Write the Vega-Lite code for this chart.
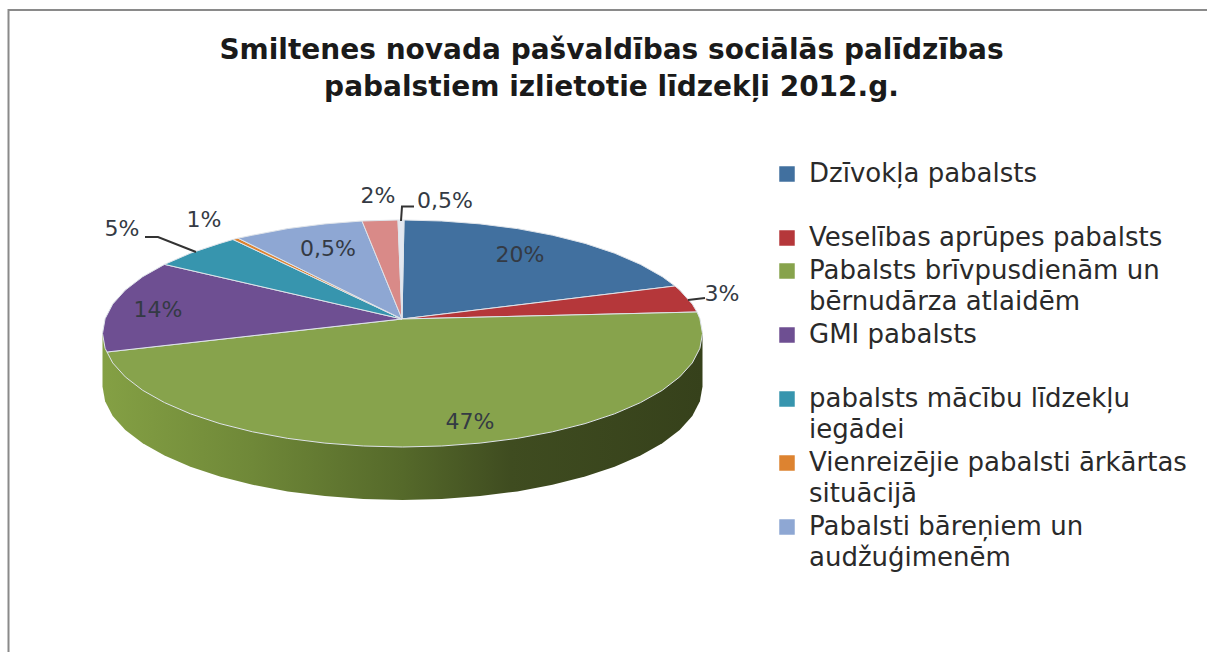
{
"$schema":"https://vega.github.io/schema/vega-lite/v6.json",
"width":1215,"height":652,"padding":0,"autosize":"none","background":"white",
"config":{"view":{"stroke":null}},
"title":{"text":["Smiltenes novada pašvaldības sociālās palīdzības","pabalstiem izlietotie līdzekļi 2012.g."],"font":"DejaVu Sans","fontSize":28,"fontWeight":"bold","color":"#1a1a1a","lineHeight":37,"anchor":"middle","baseline":"top","offset":0,"dx":4,"dy":102},
"datasets":{
"frame":[{"x":8.5,"y":652,"i":0},{"x":8.5,"y":10,"i":1},{"x":1207,"y":10,"i":2}],
"wall":[{"x":102.5,"y":333.5},{"x":102.5,"y":386.5},{"x":105.1,"y":401.3},{"x":112.7,"y":415.9},{"x":125.3,"y":429.9},{"x":142.7,"y":443.3},{"x":164.5,"y":455.6},{"x":190.4,"y":466.8},{"x":219.9,"y":476.6},{"x":252.5,"y":484.8},{"x":287.7,"y":491.4},{"x":324.9,"y":496.1},{"x":363.3,"y":499},{"x":402.5,"y":500},{"x":441.7,"y":499},{"x":480.1,"y":496.1},{"x":517.3,"y":491.4},{"x":552.5,"y":484.8},{"x":585.1,"y":476.6},{"x":614.6,"y":466.8},{"x":640.5,"y":455.6},{"x":662.3,"y":443.3},{"x":679.7,"y":429.9},{"x":692.3,"y":415.9},{"x":699.9,"y":401.3},{"x":702.5,"y":386.5},{"x":702.5,"y":333.5},{"x":102.5,"y":333.5}],
"slices":[
{"s":"Dzīvokļa pabalsts","i":0,"x":402,"y":319},{"s":"Dzīvokļa pabalsts","i":1,"x":404,"y":220},{"s":"Dzīvokļa pabalsts","i":2,"x":441.7,"y":221},{"s":"Dzīvokļa pabalsts","i":3,"x":480.1,"y":223.9},{"s":"Dzīvokļa pabalsts","i":4,"x":517.3,"y":228.6},{"s":"Dzīvokļa pabalsts","i":5,"x":552.5,"y":235.2},{"s":"Dzīvokļa pabalsts","i":6,"x":585.1,"y":243.4},{"s":"Dzīvokļa pabalsts","i":7,"x":614.6,"y":253.2},{"s":"Dzīvokļa pabalsts","i":8,"x":640.5,"y":264.4},{"s":"Dzīvokļa pabalsts","i":9,"x":662.3,"y":276.7},{"s":"Dzīvokļa pabalsts","i":10,"x":675,"y":286},{"s":"Dzīvokļa pabalsts","i":11,"x":402,"y":319},
{"s":"Veselības aprūpes pabalsts","i":0,"x":402,"y":319},{"s":"Veselības aprūpes pabalsts","i":1,"x":675,"y":286},{"s":"Veselības aprūpes pabalsts","i":2,"x":679.7,"y":290.1},{"s":"Veselības aprūpes pabalsts","i":3,"x":692.3,"y":304.1},{"s":"Veselības aprūpes pabalsts","i":4,"x":697,"y":312},{"s":"Veselības aprūpes pabalsts","i":5,"x":402,"y":319},
{"s":"Pabalsts brīvpusdienām un|bērnudārza atlaidēm","i":0,"x":402,"y":319},{"s":"Pabalsts brīvpusdienām un|bērnudārza atlaidēm","i":1,"x":697,"y":312},{"s":"Pabalsts brīvpusdienām un|bērnudārza atlaidēm","i":2,"x":699.9,"y":318.7},{"s":"Pabalsts brīvpusdienām un|bērnudārza atlaidēm","i":3,"x":702.5,"y":333.5},{"s":"Pabalsts brīvpusdienām un|bērnudārza atlaidēm","i":4,"x":699.9,"y":348.3},{"s":"Pabalsts brīvpusdienām un|bērnudārza atlaidēm","i":5,"x":692.3,"y":362.9},{"s":"Pabalsts brīvpusdienām un|bērnudārza atlaidēm","i":6,"x":679.7,"y":376.9},{"s":"Pabalsts brīvpusdienām un|bērnudārza atlaidēm","i":7,"x":662.3,"y":390.3},{"s":"Pabalsts brīvpusdienām un|bērnudārza atlaidēm","i":8,"x":640.5,"y":402.6},{"s":"Pabalsts brīvpusdienām un|bērnudārza atlaidēm","i":9,"x":614.6,"y":413.8},{"s":"Pabalsts brīvpusdienām un|bērnudārza atlaidēm","i":10,"x":585.1,"y":423.6},{"s":"Pabalsts brīvpusdienām un|bērnudārza atlaidēm","i":11,"x":552.5,"y":431.8},{"s":"Pabalsts brīvpusdienām un|bērnudārza atlaidēm","i":12,"x":517.3,"y":438.4},{"s":"Pabalsts brīvpusdienām un|bērnudārza atlaidēm","i":13,"x":480.1,"y":443.1},{"s":"Pabalsts brīvpusdienām un|bērnudārza atlaidēm","i":14,"x":441.7,"y":446},{"s":"Pabalsts brīvpusdienām un|bērnudārza atlaidēm","i":15,"x":402.5,"y":447},{"s":"Pabalsts brīvpusdienām un|bērnudārza atlaidēm","i":16,"x":363.3,"y":446},{"s":"Pabalsts brīvpusdienām un|bērnudārza atlaidēm","i":17,"x":324.9,"y":443.1},{"s":"Pabalsts brīvpusdienām un|bērnudārza atlaidēm","i":18,"x":287.7,"y":438.4},{"s":"Pabalsts brīvpusdienām un|bērnudārza atlaidēm","i":19,"x":252.5,"y":431.8},{"s":"Pabalsts brīvpusdienām un|bērnudārza atlaidēm","i":20,"x":219.9,"y":423.6},{"s":"Pabalsts brīvpusdienām un|bērnudārza atlaidēm","i":21,"x":190.4,"y":413.8},{"s":"Pabalsts brīvpusdienām un|bērnudārza atlaidēm","i":22,"x":164.5,"y":402.6},{"s":"Pabalsts brīvpusdienām un|bērnudārza atlaidēm","i":23,"x":142.7,"y":390.3},{"s":"Pabalsts brīvpusdienām un|bērnudārza atlaidēm","i":24,"x":125.3,"y":376.9},{"s":"Pabalsts brīvpusdienām un|bērnudārza atlaidēm","i":25,"x":112.7,"y":362.9},{"s":"Pabalsts brīvpusdienām un|bērnudārza atlaidēm","i":26,"x":107,"y":352},{"s":"Pabalsts brīvpusdienām un|bērnudārza atlaidēm","i":27,"x":402,"y":319},
{"s":"GMI pabalsts","i":0,"x":402,"y":319},{"s":"GMI pabalsts","i":1,"x":107,"y":352},{"s":"GMI pabalsts","i":2,"x":105.1,"y":348.3},{"s":"GMI pabalsts","i":3,"x":102.5,"y":333.5},{"s":"GMI pabalsts","i":4,"x":105.1,"y":318.7},{"s":"GMI pabalsts","i":5,"x":112.7,"y":304.1},{"s":"GMI pabalsts","i":6,"x":125.3,"y":290.1},{"s":"GMI pabalsts","i":7,"x":142.7,"y":276.7},{"s":"GMI pabalsts","i":8,"x":164.5,"y":264.4},{"s":"GMI pabalsts","i":9,"x":402,"y":319},
{"s":"pabalsts mācību līdzekļu|iegādei","i":0,"x":402,"y":319},{"s":"pabalsts mācību līdzekļu|iegādei","i":1,"x":164.5,"y":264.4},{"s":"pabalsts mācību līdzekļu|iegādei","i":2,"x":190.4,"y":253.2},{"s":"pabalsts mācību līdzekļu|iegādei","i":3,"x":219.9,"y":243.4},{"s":"pabalsts mācību līdzekļu|iegādei","i":4,"x":233,"y":239.5},{"s":"pabalsts mācību līdzekļu|iegādei","i":5,"x":402,"y":319},
{"s":"Vienreizējie pabalsti ārkārtas|situācijā","i":0,"x":402,"y":319},{"s":"Vienreizējie pabalsti ārkārtas|situācijā","i":1,"x":233,"y":239.5},{"s":"Vienreizējie pabalsti ārkārtas|situācijā","i":2,"x":238,"y":238.2},{"s":"Vienreizējie pabalsti ārkārtas|situācijā","i":3,"x":402,"y":319},
{"s":"Pabalsti bāreņiem un|audžuģimenēm","i":0,"x":402,"y":319},{"s":"Pabalsti bāreņiem un|audžuģimenēm","i":1,"x":238,"y":238.2},{"s":"Pabalsti bāreņiem un|audžuģimenēm","i":2,"x":252.5,"y":235.2},{"s":"Pabalsti bāreņiem un|audžuģimenēm","i":3,"x":287.7,"y":228.6},{"s":"Pabalsti bāreņiem un|audžuģimenēm","i":4,"x":324.9,"y":223.9},{"s":"Pabalsti bāreņiem un|audžuģimenēm","i":5,"x":362,"y":221},{"s":"Pabalsti bāreņiem un|audžuģimenēm","i":6,"x":402,"y":319},
{"s":"Citi 2%","i":0,"x":402,"y":319},{"s":"Citi 2%","i":1,"x":362,"y":221},{"s":"Citi 2%","i":2,"x":398,"y":220},{"s":"Citi 2%","i":3,"x":402,"y":319},
{"s":"Citi 0,5%","i":0,"x":402,"y":319},{"s":"Citi 0,5%","i":1,"x":398,"y":220},{"s":"Citi 0,5%","i":2,"x":404,"y":220},{"s":"Citi 0,5%","i":3,"x":402,"y":319}
],
"labels":[{"x":520,"y":255,"t":"20%"},{"x":722,"y":294,"t":"3%"},{"x":470,"y":422,"t":"47%"},{"x":158,"y":310,"t":"14%"},{"x":122,"y":229,"t":"5%"},{"x":204,"y":220,"t":"1%"},{"x":328,"y":249,"t":"0,5%"},{"x":378,"y":196,"t":"2%"},{"x":445,"y":201,"t":"0,5%"}],
"leaders":[{"g":"a","i":0,"x":145,"y":237},{"g":"a","i":1,"x":158,"y":237},{"g":"a","i":2,"x":196,"y":252},{"g":"b","i":0,"x":401,"y":221},{"g":"b","i":1,"x":402,"y":206.5},{"g":"b","i":2,"x":414,"y":206.5},{"g":"c","i":0,"x":688,"y":300},{"g":"c","i":1,"x":705,"y":298}]
},
"layer":[
{"data":{"name":"frame"},"mark":{"type":"line","stroke":"#8a8a8a","strokeWidth":2},
 "encoding":{"x":{"field":"x","type":"quantitative","scale":{"domain":[0,1215],"nice":false,"zero":false},"axis":null},"y":{"field":"y","type":"quantitative","scale":{"domain":[652,0],"nice":false,"zero":false},"axis":null},"order":{"field":"i"}}},
{"data":{"name":"wall"},"mark":{"type":"line","stroke":null,"fill":{"gradient":"linear","x1":0,"y1":0,"x2":1,"y2":0,"stops":[{"offset":0,"color":"#84a044"},{"offset":0.25,"color":"#6f8838"},{"offset":0.5,"color":"#55692a"},{"offset":0.68,"color":"#3f4c20"},{"offset":1,"color":"#36411b"}]}},
 "encoding":{"x":{"field":"x","type":"quantitative"},"y":{"field":"y","type":"quantitative"},"order":{"value":null}}},
{"data":{"name":"slices"},
 "mark":{"type":"line","stroke":"#dfe4ea","strokeWidth":1},
 "encoding":{"x":{"field":"x","type":"quantitative"},"y":{"field":"y","type":"quantitative"},"order":{"field":"i"},
 "fill":{"field":"s","type":"nominal","scale":{"domain":["Dzīvokļa pabalsts","Veselības aprūpes pabalsts","Pabalsts brīvpusdienām un|bērnudārza atlaidēm","GMI pabalsts","pabalsts mācību līdzekļu|iegādei","Vienreizējie pabalsti ārkārtas|situācijā","Pabalsti bāreņiem un|audžuģimenēm","Citi 2%","Citi 0,5%"],"range":["#41709f","#b5373a","#87a34c","#6e4f92","#3795ae","#dd8330","#8ea7d3","#d98a88","#e4e8f0"]},
 "legend":{"title":null,"orient":"none","legendX":774,"legendY":161,"values":["Dzīvokļa pabalsts","Veselības aprūpes pabalsts","Pabalsts brīvpusdienām un|bērnudārza atlaidēm","GMI pabalsts","pabalsts mācību līdzekļu|iegādei","Vienreizējie pabalsti ārkārtas|situācijā","Pabalsti bāreņiem un|audžuģimenēm"],"symbolType":"square","symbolSize":240,"symbolStrokeWidth":0,"labelFont":"DejaVu Sans","labelFontSize":26,"labelColor":"#2a2a2a","labelLimit":500,"labelOffset":9,"labelBaseline":"top","rowPadding":7,"encoding":{"labels":{"dy":{"value":-13},"lineHeight":{"value":31}}},"labelExpr":"indexof(datum.label,'|')<0 && datum.label!='Veselības aprūpes pabalsts' ? [datum.label,' '] : split(datum.label,'|')"}}}},
{"data":{"name":"leaders"},"mark":{"type":"line","stroke":"#333333","strokeWidth":2},
 "encoding":{"x":{"field":"x","type":"quantitative"},"y":{"field":"y","type":"quantitative"},"detail":{"field":"g"},"order":{"field":"i"}}},
{"data":{"name":"labels"},"mark":{"type":"text","font":"DejaVu Sans","fontSize":22,"color":"#343a44"},
 "encoding":{"x":{"field":"x","type":"quantitative"},"y":{"field":"y","type":"quantitative"},"text":{"field":"t"}}}
]
}
